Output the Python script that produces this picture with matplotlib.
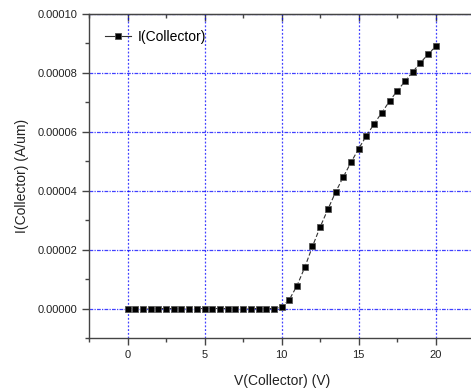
import numpy as np
import matplotlib.pyplot as plt
from matplotlib.ticker import MultipleLocator, FormatStrFormatter, NullFormatter
from matplotlib.lines import Line2D

plt.rcParams['font.family'] = ['Liberation Sans', 'DejaVu Sans']

# data
v_collector = [0.0, 0.5, 1.0, 1.5, 2.0, 2.5, 3.0, 3.5, 4.0, 4.5,
               5.0, 5.5, 6.0, 6.5, 7.0, 7.5, 8.0, 8.5, 9.0, 9.5,
               10.0, 10.5, 11.0, 11.5, 12.0, 12.5, 13.0, 13.5, 14.0, 14.5,
               15.0, 15.5, 16.0, 16.5, 17.0, 17.5, 18.0, 18.5, 19.0, 19.5, 20.0]
i_collector = [0.0] * 20 + [
    0.5e-6, 3.05e-6, 7.8e-6, 1.40e-5, 2.11e-5, 2.77e-5, 3.37e-5, 3.95e-5, 4.47e-5, 4.96e-5,
    5.43e-5, 5.86e-5, 6.27e-5, 6.65e-5, 7.04e-5, 7.39e-5, 7.71e-5, 8.03e-5, 8.34e-5, 8.63e-5,
    8.90e-5]
series_label = 'I(Collector)'
xlabel = 'V(Collector) (V)'
ylabel = 'I(Collector) (A/um)'

fig = plt.figure(figsize=(4.71, 3.9), dpi=100)
ax = fig.add_axes([0.189, 0.1333, 0.818, 0.831])

ax.plot(v_collector, i_collector, color='#333333', ls=(0, (4, 2)), lw=0.8,
        marker='s', markersize=5, markerfacecolor='black', markeredgecolor='#555555',
        markeredgewidth=0.6, zorder=3)

ax.set_xlim(-2.5, 22.5)
ax.set_ylim(-1e-5, 1e-4)
ax.xaxis.set_major_locator(MultipleLocator(5))
ax.xaxis.set_minor_locator(MultipleLocator(2.5))
ax.yaxis.set_major_locator(MultipleLocator(2e-5))
ax.yaxis.set_minor_locator(MultipleLocator(1e-5))
ax.yaxis.set_major_formatter(FormatStrFormatter('%.5f'))
ax.set_yticks([0, 2e-5, 4e-5, 6e-5, 8e-5, 1e-4])

ax.grid(True, axis='x', which='major', color='#0000ff', ls=(0, (1.5, 1.5)), lw=0.9, alpha=0.75)
ax.grid(True, axis='y', which='major', color='#0000ff', ls=(0, (3, 1, 1, 1)), lw=0.9, alpha=0.75)

for s in ax.spines.values():
    s.set_color('#444444')
    s.set_linewidth(1.0)
ax.tick_params(which='both', direction='out', colors='#444444', labelcolor='#222222',
               labelsize=8, width=1.0)
ax.tick_params(which='major', length=5)
ax.tick_params(which='minor', length=3)

# top axis: inward ticks, no labels
top = ax.secondary_xaxis('top')
top.xaxis.set_major_locator(MultipleLocator(5))
top.xaxis.set_minor_locator(MultipleLocator(2.5))
top.xaxis.set_major_formatter(NullFormatter())
top.tick_params(which='both', direction='in', colors='#444444', width=1.0)
top.tick_params(which='major', length=5)
top.tick_params(which='minor', length=3)
top.spines['top'].set_color('#444444')

ax.set_xlabel(xlabel, fontsize=10, color='#222222', labelpad=10)
ax.set_ylabel(ylabel, fontsize=10, color='#222222', labelpad=6)

handle = Line2D([], [], color='#333333', lw=0.8, marker='s', markersize=5,
                markerfacecolor='black', markeredgecolor='#555555', markeredgewidth=0.6)
ax.legend([handle], [series_label], loc='upper left', frameon=False, fontsize=10,
          handlelength=1.9, handletextpad=0.45, borderaxespad=0.75)

fig.savefig('out.png', dpi=100)
